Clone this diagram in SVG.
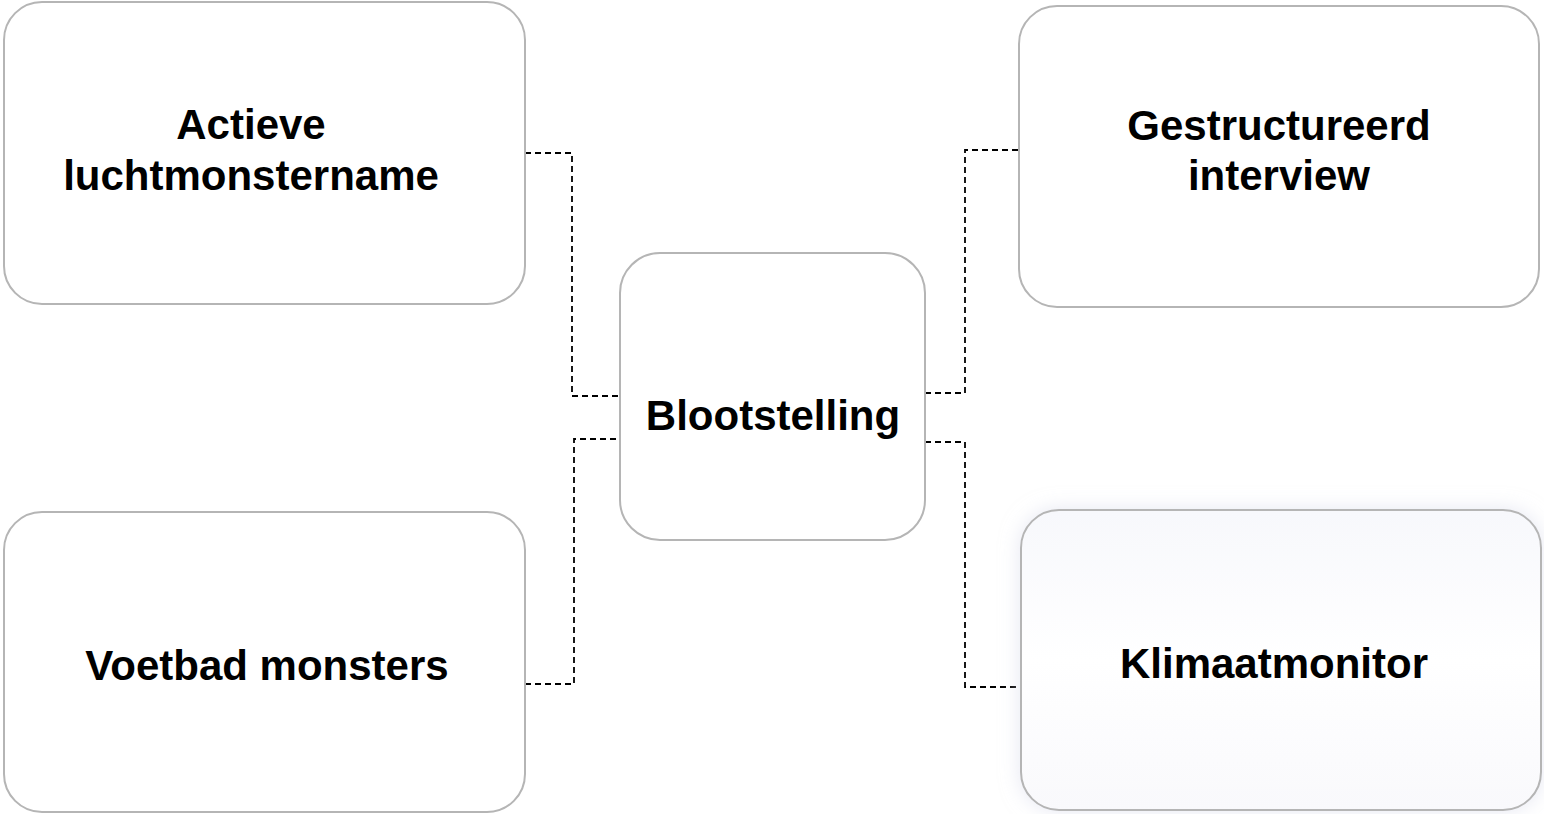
<svg xmlns="http://www.w3.org/2000/svg" width="1544" height="814" viewBox="0 0 1544 814">
<defs>
<style>
.box{fill:#ffffff;stroke:#b5b5b5;stroke-width:2}
.lbl{font-family:"Liberation Sans",Arial,sans-serif;font-weight:bold;font-size:42px;fill:#000;text-anchor:middle}
.con{fill:none;stroke:#000;stroke-width:1.8;stroke-dasharray:6 4}
</style>
<filter id="glow" x="-10%" y="-15%" width="120%" height="130%">
<feGaussianBlur in="SourceAlpha" stdDeviation="10" result="b"/>
<feFlood flood-color="#d5d8ea" flood-opacity="0.6"/>
<feComposite operator="in" in2="b"/>
<feMerge><feMergeNode/><feMergeNode in="SourceGraphic"/></feMerge>
</filter>
<linearGradient id="kg" x1="0" y1="0" x2="0" y2="1">
<stop offset="0" stop-color="#f7f8fc"/>
<stop offset="0.5" stop-color="#ffffff"/>
<stop offset="1" stop-color="#f9f9fc"/>
</linearGradient>
</defs>
<rect width="1544" height="814" fill="#ffffff"/>
<g id="connectors">
<polyline class="con" points="525,153 572,153 572,396 620,396"/>
<polyline class="con" points="525,684 574,684 574,439 620,439"/>
<polyline class="con" points="925,393 965,393 965,150 1019,150"/>
<polyline class="con" points="925,442 965,442 965,687 1021,687"/>
</g>
<g id="node-actieve">
<rect class="box" x="4" y="2" width="521" height="302" rx="38"/>
<text class="lbl" x="251" y="139">Actieve</text>
<text class="lbl" x="251" y="190">luchtmonstername</text>
</g>
<g id="node-voetbad">
<rect class="box" x="4" y="512" width="521" height="300" rx="38"/>
<text class="lbl" x="267" y="680">Voetbad monsters</text>
</g>
<g id="node-blootstelling">
<rect class="box" x="620" y="253" width="305" height="287" rx="40"/>
<text class="lbl" x="773" y="430">Blootstelling</text>
</g>
<g id="node-gestructureerd">
<rect class="box" x="1019" y="6" width="520" height="301" rx="38"/>
<text class="lbl" x="1279" y="140">Gestructureerd</text>
<text class="lbl" x="1279" y="190">interview</text>
</g>
<g id="node-klimaatmonitor">
<rect x="1021" y="510" width="520" height="300" rx="38" fill="url(#kg)" stroke="#b5b5b5" stroke-width="2" filter="url(#glow)"/>
<text class="lbl" x="1274" y="678">Klimaatmonitor</text>
</g>
</svg>
